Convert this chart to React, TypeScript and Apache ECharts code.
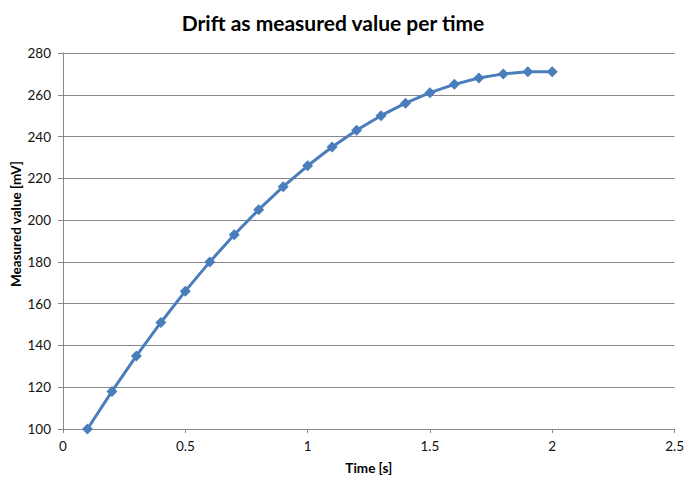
import React, { useEffect, useRef } from "react";
import * as echarts from "echarts";

const timeValues = [0.1, 0.2, 0.3, 0.4, 0.5, 0.6, 0.7, 0.8, 0.9, 1.0, 1.1, 1.2, 1.3, 1.4, 1.5, 1.6, 1.7, 1.8, 1.9, 2.0];
const measuredValues = [100, 118, 135, 151, 166, 180, 193, 205, 216, 226, 235, 243, 250, 256, 261, 265, 268, 270, 271, 271];

const titleText = "Drift as measured value per time";
const xName = "Time [s]";
const yName = "Measured value [mV]";

const FONT = "Lato, 'Open Sans', 'Liberation Sans', sans-serif";

export default function App() {
  const ref = useRef<HTMLDivElement>(null);
  useEffect(() => {
    if (!ref.current) return;
    const chart = echarts.init(ref.current, null, { renderer: "svg" });
    const data = timeValues.map((t, i) => [t, measuredValues[i]]);
    chart.setOption({
      animation: false,
      backgroundColor: "#ffffff",
      textStyle: { fontFamily: FONT },
      title: {
        text: titleText,
        left: 328,
        top: 7,
        textAlign: "center",
        textStyle: { fontFamily: FONT, fontSize: 21, fontWeight: "bold", color: "#000" },
      },
      grid: { left: 63, right: 12, top: 53, bottom: 49 },
      graphic: [
        {
          type: "text",
          x: 16,
          y: 224,
          rotation: Math.PI / 2,
          style: {
            text: yName,
            fontFamily: FONT,
            fontSize: 13.5,
            fontWeight: "bold",
            fill: "#000",
            align: "center",
            verticalAlign: "middle",
          },
        },
      ],
      xAxis: {
        type: "value",
        min: 0,
        max: 2.5,
        interval: 0.5,
        name: xName,
        nameLocation: "middle",
        nameGap: 32,
        nameTextStyle: { fontFamily: FONT, fontSize: 13.5, fontWeight: "bold", color: "#000" },
        axisLine: { show: true, lineStyle: { color: "#888888", width: 1 } },
        axisTick: { show: true, length: 4, inside: false, lineStyle: { color: "#888888" } },
        axisLabel: { fontFamily: FONT, fontSize: 13.5, color: "#111", margin: 10 },
        splitLine: { show: false },
      },
      yAxis: {
        type: "value",
        min: 100,
        max: 280,
        interval: 20,
        axisLine: { show: true, lineStyle: { color: "#888888", width: 1 } },
        axisTick: { show: true, length: 5, inside: false, lineStyle: { color: "#888888" } },
        axisLabel: { fontFamily: FONT, fontSize: 13.5, color: "#111", margin: 12 },
        splitLine: { show: true, lineStyle: { color: "#888888", width: 1 } },
      },
      series: [
        {
          type: "line",
          data,
          symbol: "diamond",
          symbolSize: 11,
          lineStyle: { color: "#4A7EBB", width: 3 },
          itemStyle: { color: "#4A7EBB" },
        },
      ],
    });
    return () => chart.dispose();
  }, []);
  return <div ref={ref} style={{ width: 687, height: 480, position: "absolute", left: 0, top: 0 }} />;
}
